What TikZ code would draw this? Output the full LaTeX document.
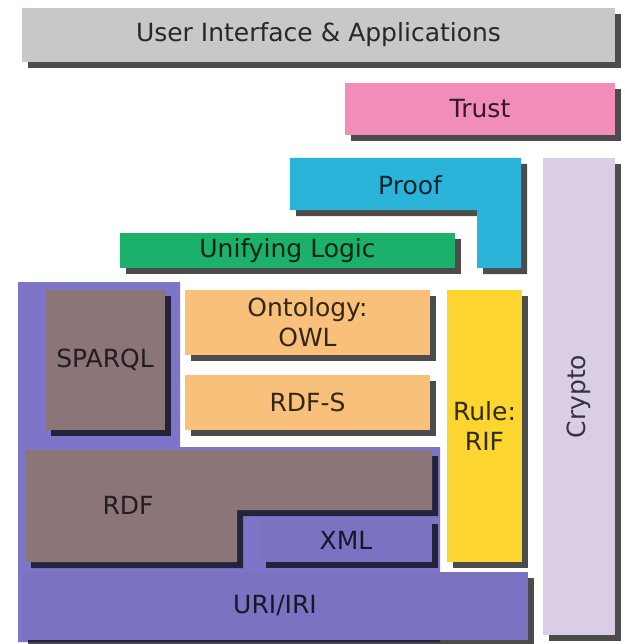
\documentclass[tikz,border=0pt]{standalone}
\usepackage{fontspec}
\setmainfont{DejaVu Sans}
\usetikzlibrary{shadows}
\definecolor{cgray}{HTML}{C9C7C9}
\definecolor{cpink}{HTML}{F28DBA}
\definecolor{clav}{HTML}{D9CEE6}
\definecolor{ccyan}{HTML}{2BB4D9}
\definecolor{cgreen}{HTML}{1BB16B}
\definecolor{cpurple}{HTML}{7B73C2}
\definecolor{cback}{HTML}{7D76C8}
\definecolor{cbrown}{HTML}{8B7579}
\definecolor{corange}{HTML}{F8C07A}
\definecolor{cyellow}{HTML}{FCD530}
\tikzset{
  shad/.style={drop shadow={shadow xshift=6pt, shadow yshift=-6pt, fill=black, opacity=0.7}},
  box/.style={shad, rectangle, inner sep=0pt, outer sep=0pt, draw=none, align=center,
    font=\fontsize{25}{30}\selectfont},
  lbl/.style={inner sep=0pt, align=center, font=\fontsize{25}{30}\selectfont}
}
\begin{document}
\begin{tikzpicture}[x=1pt,y=-1pt]
\useasboundingbox[fill=white] (0,0) rectangle (624,644);
% purple backdrop
\fill[cback] (18,282) -- (180,282) -- (180,447) -- (440,447) -- (440,642) -- (18,642) -- cycle;
% top layers
\node[box, fill=cgray, text=cgray!20!black, minimum width=593, minimum height=54] (ui) at (318.5,35) {User Interface \& Applications};
\node[box, fill=cpink, text=cpink!20!black, minimum width=270, minimum height=52] (trust) at (480,109) {Trust};
\node[box, fill=clav, minimum width=72, minimum height=477] (crypto) at (579,396.5) {};
\node[lbl, text=clav!25!black, rotate=90] (cryptotext) at (crypto.center) {Crypto};
% proof L-shape
\fill[ccyan, shad] (290,158) -- (521,158) -- (521,268) -- (477,268) -- (477,210) -- (290,210) -- cycle;
\node[lbl, text=ccyan!20!black] (proof) at (410,185) {Proof};
\node[box, fill=cgreen, text=cgreen!20!black, minimum width=335, minimum height=35] (logic) at (287.5,250.5) {Unifying Logic};
% middle layers
\node[box, fill=cbrown, text=cbrown!25!black, minimum width=120, minimum height=140] (sparql) at (105,360) {SPARQL};
\node[box, fill=corange, text=corange!20!black, minimum width=245, minimum height=65] (owl) at (307.5,322.5) {Ontology:\\OWL};
\node[box, fill=corange, text=corange!20!black, minimum width=245, minimum height=55] (rdfs) at (307.5,402.5) {RDF-S};
\node[box, fill=cyellow, text=cyellow!20!black, minimum width=75, minimum height=272] (rif) at (484.5,426) {Rule:\\RIF};
% RDF L-shape
\fill[cbrown, shad] (25,450) -- (432,450) -- (432,510) -- (237,510) -- (237,562) -- (25,562) -- cycle;
\node[lbl, text=cbrown!25!black] (rdf) at (128,505) {RDF};
\node[box, fill=cpurple, text=cpurple!20!black, minimum width=172, minimum height=44] (xml) at (346,540) {XML};
\node[box, fill=cpurple, text=cpurple!20!black, minimum width=506, minimum height=68] (uri) at (275,606) {URI/IRI};
\end{tikzpicture}
\end{document}
